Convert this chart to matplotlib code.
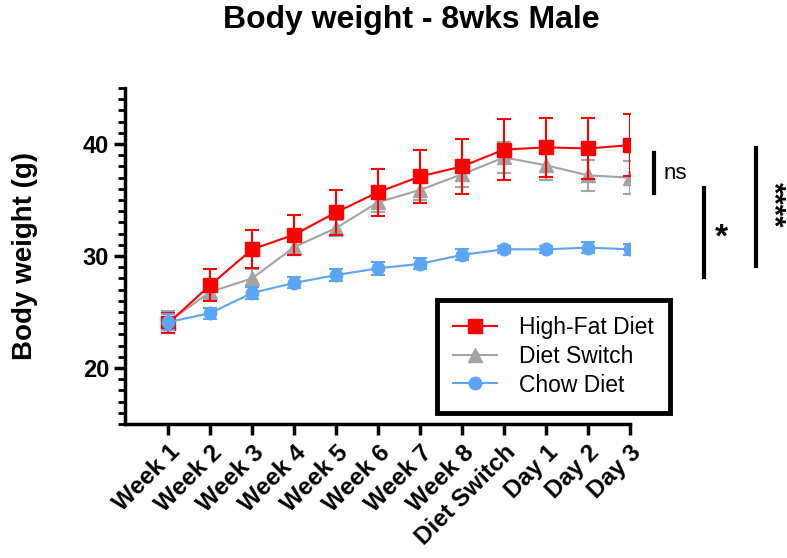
import numpy as np
import matplotlib
matplotlib.use("Agg")
import matplotlib.pyplot as plt
from matplotlib.ticker import MultipleLocator
from matplotlib.lines import Line2D

plt.rcParams['font.family'] = ['Liberation Sans', 'DejaVu Sans']

# datos
etiquetas = ["Week 1", "Week 2", "Week 3", "Week 4", "Week 5", "Week 6",
             "Week 7", "Week 8", "Diet Switch", "Day 1", "Day 2", "Day 3"]

hfd = [24.0, 27.4, 30.6, 31.9, 33.9, 35.7, 37.1, 38.0, 39.5, 39.7, 39.6, 39.9]
hfd_err = [0.9, 1.4, 1.7, 1.8, 2.0, 2.1, 2.35, 2.45, 2.7, 2.65, 2.7, 2.75]

switch = [24.1, 26.8, 28.0, 30.8, 32.5, 34.8, 35.9, 37.3, 38.8, 38.1, 37.2, 37.0]
switch_err = [1.0, 0.8, 0.8, 0.7, 0.7, 0.9, 0.9, 1.1, 1.4, 1.3, 1.4, 1.45]

chow = [24.1, 24.9, 26.7, 27.6, 28.3, 28.9, 29.3, 30.1, 30.6, 30.6, 30.75, 30.6]
chow_err = [0.7, 0.5, 0.5, 0.5, 0.5, 0.6, 0.5, 0.5, 0.3, 0.3, 0.5, 0.5]

x = np.arange(len(etiquetas))

fig = plt.figure(figsize=(7.87, 5.58), dpi=100)
ax = fig.add_axes([0.1588, 0.2401, 0.8005 - 0.1588, 0.8423 - 0.2401])

rojo = '#FF0000'
gris = '#A3A3A3'
azul = '#5AA5F5'

ax.errorbar(x, switch, yerr=switch_err, color=gris, marker='^', markersize=10,
            lw=1.5, capsize=5, capthick=1.5, elinewidth=1.5, zorder=2)
ax.errorbar(x, hfd, yerr=hfd_err, color=rojo, marker='s', markersize=9.5,
            lw=1.5, capsize=5, capthick=1.5, elinewidth=1.5, zorder=3)
ax.errorbar(x, chow, yerr=chow_err, color=azul, marker='o', markersize=9,
            lw=1.5, capsize=5, capthick=1.5, elinewidth=1.5, zorder=4)

ax.set_xlim(-1.03, 11)
ax.set_ylim(15, 45)
ax.yaxis.set_minor_locator(MultipleLocator(1))
ax.set_yticks([20, 30, 40])
ax.set_xticks(x)
ax.set_xticklabels(etiquetas, rotation=45, ha='right', rotation_mode='anchor',
                   fontsize=17.5, fontweight='bold')
for t in ax.get_yticklabels():
    t.set_fontsize(17)
    t.set_fontweight('bold')

for s in ['top', 'right']:
    ax.spines[s].set_visible(False)
for s in ['left', 'bottom']:
    ax.spines[s].set_linewidth(2.5)
ax.tick_params(axis='both', which='major', width=2.5, length=8)
ax.tick_params(axis='y', which='minor', width=2, length=5)
ax.tick_params(axis='x', pad=4)

ax.set_ylabel("Body weight (g)", fontsize=20, fontweight='bold')
ax.yaxis.set_label_coords(-0.172, 0.5)
fig.text(0.522, 0.965, "Body weight - 8wks Male", fontsize=23, fontweight='bold',
         ha='center', va='center')

# leyenda sin barras de error
handles = [
    Line2D([], [], color=rojo, marker='s', markersize=9.5, lw=1.5),
    Line2D([], [], color=gris, marker='^', markersize=10, lw=1.5),
    Line2D([], [], color=azul, marker='o', markersize=9, lw=1.5),
]
nombres = ["High-Fat Diet", "Diet Switch", "Chow Diet"]
leg = ax.legend(handles, nombres, loc='upper left',
                bbox_to_anchor=((437 - 125) / 505, (424 - 300) / 336),
                fontsize=16.5, frameon=True, fancybox=False, framealpha=1,
                edgecolor='black', handlelength=1.9, handletextpad=1.0,
                borderpad=0.7, labelspacing=0.25, borderaxespad=0)
leg.get_frame().set_linewidth(3.5)

# barras de significancia
ax.plot([11.57, 11.57], [39.2, 35.6], color='black', lw=3, clip_on=False)
ax.text(11.8, 37.4, "ns", fontsize=16, va='center', ha='left')
ax.plot([12.77, 12.77], [36.1, 28.1], color='black', lw=3, clip_on=False)
ax.text(13.17, 31.6, "*", fontsize=24, fontweight='bold', va='center', ha='center')
ax.plot([13.99, 13.99], [39.6, 29.1], color='black', lw=3, clip_on=False)
ax.text(14.4, 34.6, "****", fontsize=21, fontweight='bold', va='center', ha='center',
        rotation=270)

fig.savefig("out.png", dpi=100)
